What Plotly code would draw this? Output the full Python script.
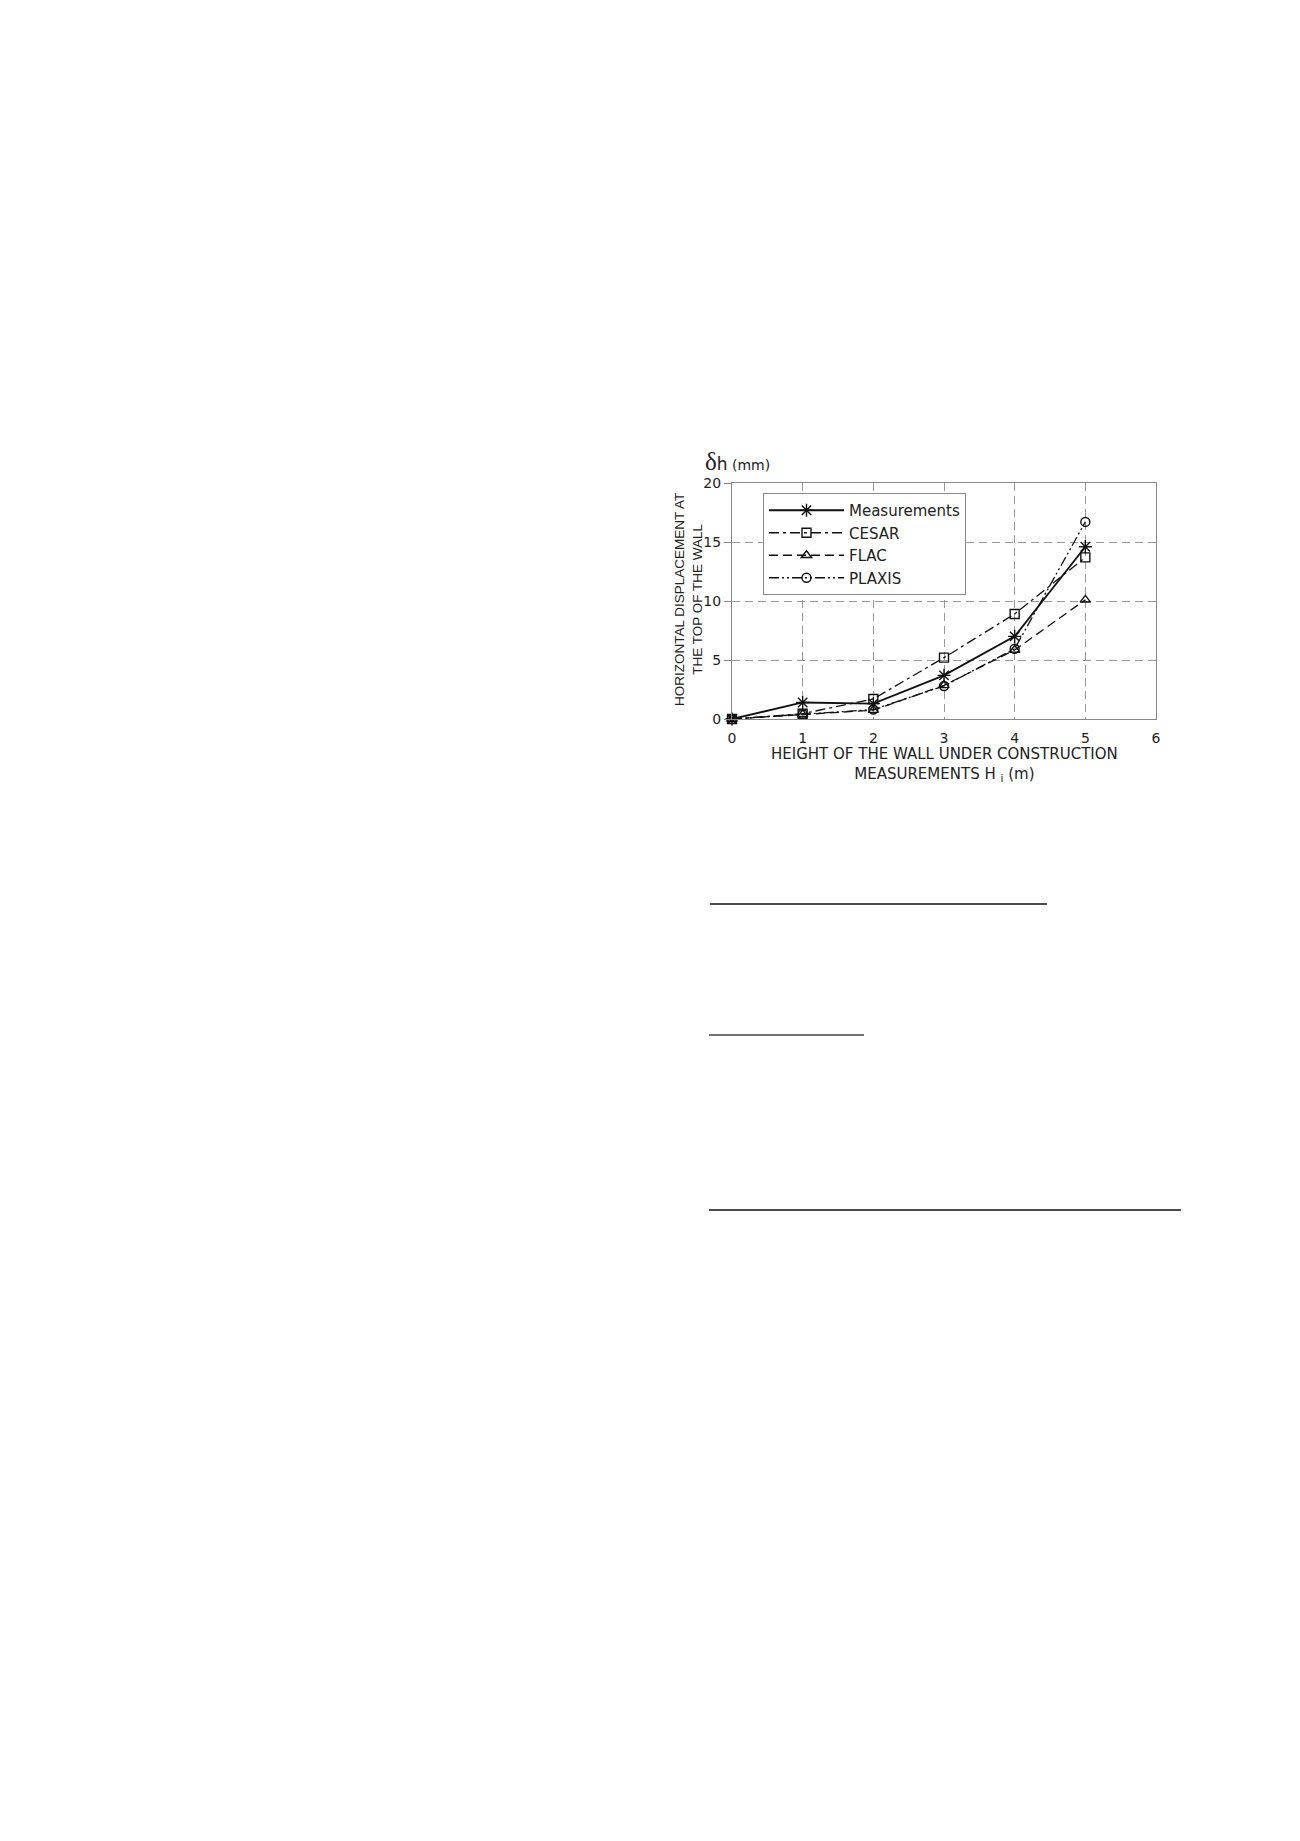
import plotly.graph_objects as go

# ----------------------------
# Data
# ----------------------------
height_m = [0, 1, 2, 3, 4, 5]

measurements = [0.0, 1.4, 1.3, 3.7, 7.0, 14.6]
cesar = [0.0, 0.45, 1.7, 5.2, 8.9, 13.7]
flac = [0.0, 0.4, 0.75, 2.85, 5.85, 10.1]
plaxis = [0.0, 0.4, 0.8, 2.8, 5.95, 16.7]

series_names = ["Measurements", "CESAR", "FLAC", "PLAXIS"]
series_values = [measurements, cesar, flac, plaxis]

x_ticks = [0, 1, 2, 3, 4, 5, 6]
y_ticks = [0, 5, 10, 15, 20]

# styles per series
styles = {
    "Measurements": dict(dash="solid", symbol="asterisk-open", size=11, width=1.8),
    "CESAR": dict(dash="10px,4px,3px,4px", symbol="square-open", size=9, width=1.3),
    "FLAC": dict(dash="9px,5px", symbol="triangle-up-open", size=9, width=1.3),
    "PLAXIS": dict(dash="10px,3px,2px,3px,2px,3px", symbol="circle-open", size=9, width=1.3),
}

FONT = "Liberation Sans, Arial, sans-serif"
WIDE = "DejaVu Sans, sans-serif"

fig = go.Figure()
for name, vals in zip(series_names, series_values):
    st = styles[name]
    fig.add_trace(go.Scatter(
        x=height_m, y=vals, name=name, mode="lines+markers",
        line=dict(color="#111111", width=st["width"], dash=st["dash"]),
        marker=dict(symbol=st["symbol"], size=st["size"], color="#111111",
                    line=dict(color="#111111", width=1.4)),
        cliponaxis=False,
    ))

# plot area in page pixels: x 732-1156, y 483-719
W, H = 1300, 1841
L, R, T, B = 732, 1156, 483, 719

def px(xp):
    return (xp - L) / (R - L)

def py(yp):
    return (B - yp) / (B - T)

fig.update_layout(
    width=W, height=H,
    margin=dict(l=L, r=W - R, t=T, b=H - B),
    paper_bgcolor="white", plot_bgcolor="white",
    font=dict(family=FONT, color="#222222", size=12),
    showlegend=True,
    legend=dict(
        x=px(763), y=py(493), xanchor="left", yanchor="top",
        bgcolor="white", bordercolor="#888888", borderwidth=1,
        font=dict(size=15, family=WIDE, color="#222222"),
        itemwidth=75, tracegroupgap=0,
    ),
)

fig.update_xaxes(
    range=[0, 6], tickvals=x_ticks, ticktext=[str(v) for v in x_ticks],
    showgrid=True, gridcolor="#999999", griddash="8px,5px", gridwidth=1,
    showline=True, linecolor="#888888", linewidth=1.2, mirror=True,
    zeroline=False, ticks="", ticklabelstandoff=6,
    tickfont=dict(size=14, family=WIDE, color="#222222"),
)
fig.update_yaxes(
    range=[0, 20], tickvals=y_ticks, ticktext=[str(v) for v in y_ticks],
    showgrid=True, gridcolor="#999999", griddash="8px,5px", gridwidth=1,
    showline=True, linecolor="#888888", linewidth=1.2, mirror=True,
    zeroline=False, ticks="outside", ticklen=7, tickcolor="#888888",
    tickfont=dict(size=14, family=WIDE, color="#222222"),
)

# axis titles and unit label
fig.add_annotation(
    x=px(688), y=py(600), xref="paper", yref="paper",
    xanchor="center", yanchor="middle",
    text="HORIZONTAL DISPLACEMENT AT<br>THE TOP OF THE WALL",
    textangle=-90, showarrow=False, align="center",
    font=dict(size=13.5, family=FONT, color="#222222"),
)
fig.add_annotation(
    x=0.5, y=py(764), xref="paper", yref="paper",
    xanchor="center", yanchor="middle",
    text="HEIGHT OF THE WALL UNDER CONSTRUCTION<br>MEASUREMENTS H <sub>i</sub> (m)",
    showarrow=False, align="center",
    font=dict(size=15, family=WIDE, color="#222222"),
)
fig.add_annotation(
    x=px(703), y=py(461), xref="paper", yref="paper",
    xanchor="left", yanchor="middle",
    text="<span style='font-family:Liberation Serif;font-size:25px'>δ</span>"
         "<span style='font-size:17px'>h</span> (mm)",
    showarrow=False, font=dict(size=14, family=WIDE, color="#222222"),
)

# rules below the figure
rules = [(710, 1047, 904, "#111111"), (709, 864, 1035, "#444444"), (709, 1181, 1210, "#111111")]
for x0, x1, y0, col in rules:
    fig.add_shape(type="line", xref="paper", yref="paper",
                  x0=px(x0), x1=px(x1), y0=py(y0), y1=py(y0),
                  line=dict(color=col, width=1.6))

fig.write_html("out.html", config={"displayModeBar": False},
               post_script="document.body.style.margin='0';")
